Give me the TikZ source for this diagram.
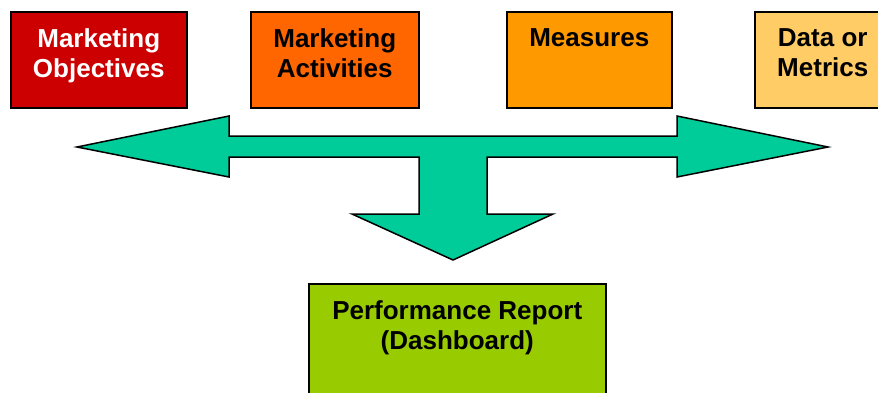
\documentclass[tikz,border=0pt]{standalone}
\usepackage{fontspec}
\setmainfont{Liberation Sans}
\usetikzlibrary{positioning}
\definecolor{objred}{HTML}{CC0000}
\definecolor{actorange}{HTML}{FF6600}
\definecolor{measorange}{HTML}{FF9900}
\definecolor{datayellow}{HTML}{FFCC66}
\definecolor{flowgreen}{HTML}{00CC99}
\definecolor{repgreen}{HTML}{99CC00}
\begin{document}
\begin{tikzpicture}[x=1pt,y=-1pt,
  card/.style={draw=black, line width=1.5pt, anchor=north west, minimum height=96pt, inner sep=0pt},
  cardtext/.style={anchor=north, align=center, inner sep=0pt, yshift=-17pt,
    font=\fontsize{26}{30}\selectfont\bfseries},
  flow/.style={draw=black, line width=1.5pt, fill=flowgreen}]
\useasboundingbox (0,0) rectangle (878,392);
\clip (0,0) rectangle (878,392);
% top boxes
\node[card, fill=objred, minimum width=176pt] (obj) at (10,11) {};
\node[cardtext, text=white] (objtext) at (obj.north) {Marketing\\Objectives};
\node[card, fill=actorange, minimum width=168pt] (act) at (250,11) {};
\node[cardtext] (acttext) at (act.north) {Marketing\\Activities};
\node[card, fill=measorange, minimum width=165pt] (meas) at (506,11) {};
\node[cardtext] (meastext) at (meas.north) {Measures};
\node[card, fill=datayellow, minimum width=136pt] (data) at (754,11) {};
\node[cardtext] (datatext) at (data.north) {Data or\\Metrics};
% the big arrow
\draw[flow] (77,147) -- (229,116) -- (229,136) -- (677,136) -- (677,116) -- (828,147)
  -- (677,177) -- (677,157) -- (487,157) -- (487,214) -- (553,214) -- (453,260)
  -- (352,214) -- (419,214) -- (419,157) -- (229,157) -- (229,177) -- cycle;
% report
\node[card, fill=repgreen, minimum width=297pt, minimum height=130pt] (rep) at (308,283) {};
\node[cardtext] (reptext) at (rep.north) {Performance Report\\(Dashboard)};
\end{tikzpicture}
\end{document}
